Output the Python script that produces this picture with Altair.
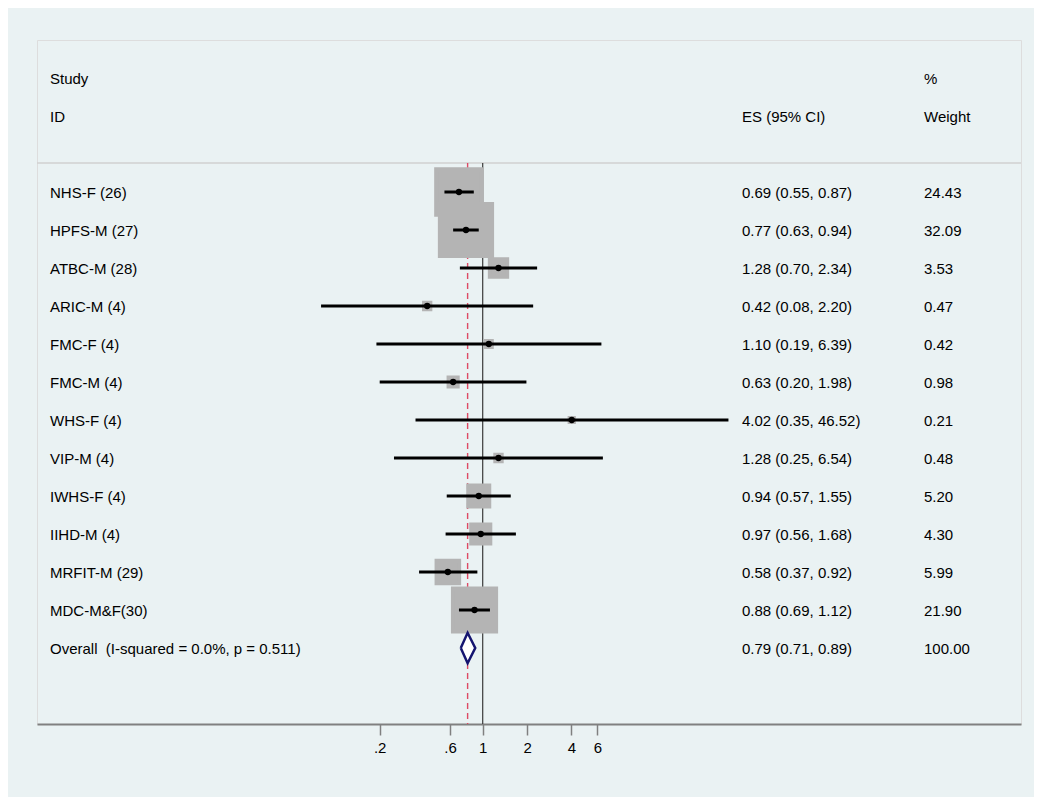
import altair as alt
import pandas as pd

# ---------------- data ----------------
studies = ["NHS-F (26)", "HPFS-M (27)", "ATBC-M (28)", "ARIC-M (4)", "FMC-F (4)",
           "FMC-M (4)", "WHS-F (4)", "VIP-M (4)", "IWHS-F (4)", "IIHD-M (4)",
           "MRFIT-M (29)", "MDC-M&F(30)"]
es = [0.69, 0.77, 1.28, 0.42, 1.10, 0.63, 4.02, 1.28, 0.94, 0.97, 0.58, 0.88]
ci_lo = [0.55, 0.63, 0.70, 0.08, 0.19, 0.20, 0.35, 0.25, 0.57, 0.56, 0.37, 0.69]
ci_hi = [0.87, 0.94, 2.34, 2.20, 6.39, 1.98, 46.52, 6.54, 1.55, 1.68, 0.92, 1.12]
weights = [24.43, 32.09, 3.53, 0.47, 0.42, 0.98, 0.21, 0.48, 5.20, 4.30, 5.99, 21.90]

overall_label = "Overall \u00a0(I-squared = 0.0%, p = 0.511)"
overall_es, overall_lo, overall_hi, overall_wt = 0.79, 0.71, 0.89, 100.00

tick_values = [0.2, 0.6, 1, 2, 4, 6]

# ---------------- tables ----------------
n = len(studies)
df = pd.DataFrame({
    "study": studies, "es": es, "lo": ci_lo, "hi": ci_hi, "wt": weights,
    "row": list(range(n)),
})
df["es_text"] = [f"{e:.2f} ({l:.2f}, {h:.2f})" for e, l, h in zip(es, ci_lo, ci_hi)]
df["wt_text"] = [f"{w:.2f}" for w in weights]

ov_row = n
left_text = pd.DataFrame({
    "text": ["Study", "ID"] + studies + [overall_label],
    "row": [-3, -2] + list(range(n)) + [ov_row],
})
es_text = pd.DataFrame({
    "text": ["ES (95% CI)"] + list(df["es_text"]) +
            [f"{overall_es:.2f} ({overall_lo:.2f}, {overall_hi:.2f})"],
    "row": [-2] + list(range(n)) + [ov_row],
})
wt_text = pd.DataFrame({
    "text": ["%", "Weight"] + list(df["wt_text"]) + [f"{overall_wt:.2f}"],
    "row": [-3, -2] + list(range(n)) + [ov_row],
})

sep_row = -0.76
bottom_row = 14
ref_lines = pd.DataFrame({"x": [1.0], "y": [sep_row], "y2": [bottom_row]})
ov_line = pd.DataFrame({"x": [overall_es], "y": [sep_row], "y2": [bottom_row]})
sep = pd.DataFrame({"y": [sep_row]})

dh = 0.4
diamond_area = pd.DataFrame({
    "x": [overall_lo, overall_es, overall_hi],
    "y": [ov_row, ov_row - dh, ov_row],
    "y2": [ov_row, ov_row + dh, ov_row],
})
diamond_line = pd.DataFrame({
    "x": [overall_lo, overall_es, overall_hi, overall_es, overall_lo],
    "y": [ov_row, ov_row - dh, ov_row, ov_row + dh, ov_row],
    "o": [0, 1, 2, 3, 4],
})

# ---------------- scales ----------------
W, H = 984, 684
xscale = alt.Scale(type="log", domain=[0.000945, 4497], nice=False)
yscale = alt.Scale(domain=[-4, 14], reverse=True, nice=False, zero=False)

label_expr = ("datum.value < 1 ? replace(format(datum.value, '.1f'), '0.', '.') "
              ": format(datum.value, 'd')")
xaxis = alt.Axis(values=tick_values, labelExpr=label_expr, title=None, grid=False,
                 domainColor="#808080", domainWidth=2, tickColor="#808080",
                 tickWidth=1.5, tickSize=11, labelFontSize=15, labelColor="black",
                 labelPadding=5, labelFont="Liberation Sans", labelFlush=False,
                 labelOverlap=False)

FONT = "Liberation Sans"

sep_layer = alt.Chart(sep).mark_rule(color="#d0d0d0", strokeWidth=1.5).encode(
    y=alt.Y("y:Q", scale=yscale, axis=None))

vline = alt.Chart(ref_lines).mark_rule(color="#3a3a3a", strokeWidth=1.2).encode(
    x=alt.X("x:Q", scale=xscale, axis=xaxis),
    y=alt.Y("y:Q", scale=yscale, axis=None), y2="y2:Q")

ovline = alt.Chart(ov_line).mark_rule(color="#de4a64", strokeWidth=1.4,
                                      strokeDash=[6, 4]).encode(
    x=alt.X("x:Q", scale=xscale), y=alt.Y("y:Q", scale=yscale), y2="y2:Q")

boxes = alt.Chart(df).mark_square(color="#b4b4b4", opacity=1, stroke="#b4b4b4",
                                  strokeWidth=4).encode(
    x=alt.X("es:Q", scale=xscale),
    y=alt.Y("row:Q", scale=yscale),
    size=alt.Size("wt:Q", scale=alt.Scale(type="linear", domain=[0, 100],
                                          range=[0, 8500], zero=True), legend=None))

ci = alt.Chart(df).mark_rule(color="black", strokeWidth=3).encode(
    x=alt.X("lo:Q", scale=xscale), x2="hi:Q", y=alt.Y("row:Q", scale=yscale))

dots = alt.Chart(df).mark_circle(color="black", opacity=1, size=40).encode(
    x=alt.X("es:Q", scale=xscale), y=alt.Y("row:Q", scale=yscale))

dia_fill = alt.Chart(diamond_area).mark_area(color="white", opacity=1,
                                             orient="vertical").encode(
    x=alt.X("x:Q", scale=xscale), y=alt.Y("y:Q", scale=yscale), y2="y2:Q")

dia_line = alt.Chart(diamond_line).mark_line(color="#141470", strokeWidth=2.5).encode(
    x=alt.X("x:Q", scale=xscale), y=alt.Y("y:Q", scale=yscale), order="o:Q")


def text_layer(data, px):
    return alt.Chart(data).mark_text(align="left", baseline="middle", dy=1,
                                     fontSize=15, font=FONT, color="black").encode(
        x=alt.value(px), y=alt.Y("row:Q", scale=yscale), text="text:N")


chart = alt.layer(
    sep_layer, vline, ovline, boxes, ci, dots, dia_fill, dia_line,
    text_layer(left_text, 13), text_layer(es_text, 705), text_layer(wt_text, 887),
).properties(
    width=W, height=H,
    autosize=alt.AutoSizeParams(type="none"),
    padding={"left": 29, "top": 32, "right": 13, "bottom": 73},
    background="#eaf2f3",
).configure_view(fill="white", strokeWidth=0, stroke="transparent").configure(font=FONT)

chart.save("out.html", embed_options={"renderer": "svg", "actions": False})
